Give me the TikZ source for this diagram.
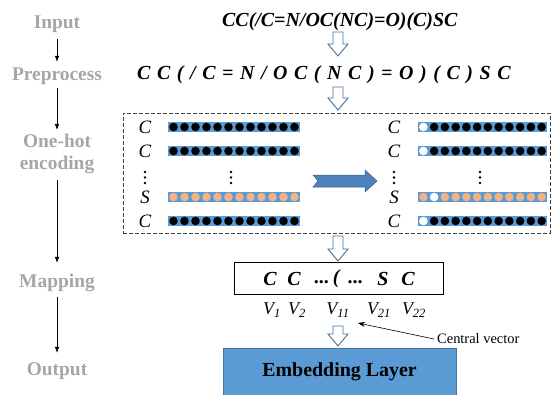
\documentclass[tikz,border=0pt]{standalone}
\usepackage{fontspec}
\setmainfont{Liberation Serif}
\usetikzlibrary{arrows.meta}

\definecolor{steplabel}{HTML}{A6A6A6}
\definecolor{barblue}{HTML}{5B9BD5}
\definecolor{edgeblue}{HTML}{41719C}
\definecolor{dotorange}{HTML}{F4B183}
\definecolor{bigarrow}{HTML}{4F81BD}
\definecolor{bigarrowedge}{HTML}{385D8A}

\tikzset{
  steptext/.style={font=\fontsize{19.5}{22}\selectfont\bfseries, text=steplabel, inner sep=0pt, text height=14bp, text depth=4bp},
  steparrow/.style={-{Latex[length=6bp,width=4.5bp]}, line width=0.6bp},
  smiles/.style={font=\fontsize{20}{24}\selectfont\bfseries\itshape, inner sep=0pt},
  token/.style={font=\fontsize{19}{22}\selectfont\itshape, inner sep=0pt},
  vlabel/.style={font=\fontsize{18}{20}\selectfont\itshape, inner sep=0pt},
  hollowline/.style={draw=edgeblue, fill=white, line width=0.9bp, line join=miter},
  encbox/.style={draw=black!75, dash pattern=on 4bp off 2bp, line width=0.7bp, inner sep=0pt},
}

% hollow down arrow: x, top y, tip y
\newcommand{\hollowdown}[3]{%
  \draw[hollowline] (#1-5,#2) -- (#1+5,#2) -- (#1+5,#3-12) -- (#1+10,#3-12) -- (#1,#3) -- (#1-10,#3-12) -- (#1-5,#3-12) -- cycle;}

% one-hot bar: left x, y, step, colour, index of the white ball
\newcommand{\hotrow}[5]{%
  \fill[barblue] (#1,#2-5) rectangle ++(12*#3,10);
  \foreach \k in {1,...,12}{%
    \ifnum\k=#5 \def\ballcol{white}\else\def\ballcol{#4}\fi
    \fill[\ballcol] (#1+\k*#3-#3/2,#2) circle (4.3bp);}}

\newcommand{\vsub}[1]{\textit{V}\textsubscript{\textit{#1}}}

\begin{document}
\begin{tikzpicture}[x=1bp,y=-1bp]
        \useasboundingbox (0,0) rectangle (553,394);

        \node[steptext] (lin) at (57,23) {Input};
        \node[steptext] (lpre) at (57,75) {Preprocess};
        \node[steptext, text height=, text depth=, align=center] (loh) at (57,154) {One-hot\\encoding};
        \node[steptext] (lmap) at (57,282) {Mapping};
        \node[steptext] (lout) at (57,370) {Output};
        \draw[steparrow, shorten <=7bp, shorten >=4bp] (lin) -- (lpre);
        \draw[steparrow, shorten <=4bp, shorten >=4bp] (lpre) -- (loh);
        \draw[steparrow, shorten <=6bp, shorten >=10bp] (loh) -- (lmap);
        \draw[steparrow, shorten <=6bp, shorten >=8bp] (lmap) -- (lout);

        \node[smiles, anchor=west] (smi) at (222,21.5) {CC(/C=N/OC(NC)=O)(C)SC};
        \node[smiles, anchor=west] (tok) at (137,74.5) {\spaceskip=0.33em\relax C C ( / C = N / O C ( N C ) = O ) ( C ) S C};
        \hollowdown{338}{32}{56}
        \hollowdown{338}{87}{110}

        \node[encbox, minimum width=427bp, minimum height=120bp] (enc) at (336.5,173) {};
        \node[token] (lc1) at (145,127) {C};
        \node[token] (lc2) at (145,151) {C};
        \node[token] (ls) at (145,197) {S};
        \node[token] (lc3) at (145,221) {C};
        \node[token] (rc1) at (394,127) {C};
        \node[token] (rc2) at (394,151) {C};
        \node[token] (rs) at (394,197) {S};
        \node[token] (rc3) at (394,221) {C};
        \hotrow{168}{127}{11}{black}{0}
        \hotrow{168}{151}{11}{black}{0}
        \hotrow{168}{197}{11}{dotorange}{0}
        \hotrow{168}{221}{11}{black}{0}
        \hotrow{418}{127}{10.75}{black}{1}
        \hotrow{418}{151}{10.75}{black}{1}
        \hotrow{418}{197}{10.75}{dotorange}{2}
        \hotrow{418}{221}{10.75}{black}{1}
        \foreach \x in {145,231,394,480}
          \foreach \y in {172,177.5,183}
            \fill (\x,\y) circle (1.4bp);
        \draw[fill=bigarrow, draw=bigarrowedge, line width=0.5bp] (313,175) -- (365,175) -- (365,170) -- (377,181) -- (365,192) -- (365,187) -- (313,187) -- (318,181) -- cycle;

        \hollowdown{338}{236}{261}
        \node[draw, line width=0.6bp, minimum width=209bp, minimum height=32bp, inner sep=0pt] (map) at (338.5,278) {};
        \node[smiles] (m1) at (270,279) {C};
        \node[smiles] (m2) at (294,279) {C};
        \node[smiles] (m3) at (339,279) {...\,(\;\,...};
        \node[smiles] (m4) at (383,279) {S};
        \node[smiles] (m5) at (408,279) {C};
        \node[vlabel] (v1) at (272,310) {\vsub{1}};
        \node[vlabel] (v2) at (297,310) {\vsub{2}};
        \node[vlabel] (v11) at (338,310) {\vsub{11}};
        \node[vlabel] (v21) at (379,310) {\vsub{21}};
        \node[vlabel] (v22) at (414,310) {\vsub{22}};
        \node[anchor=west, inner sep=3bp, font=\fontsize{14.5}{16}\selectfont] (cv) at (434,339) {Central vector};
        \coordinate (cvtip) at (358,323);
        \draw[-{Stealth[length=7bp,width=5bp]}, line width=0.6bp] (cv.west) -- (cvtip);

        \hollowdown{338}{326}{346}
        \node[fill=barblue, draw=edgeblue, line width=0.8bp, minimum width=233bp, minimum height=48bp, font=\fontsize{20}{24}\selectfont\bfseries] (emb) at (339.5,372) {Embedding Layer};
\end{tikzpicture}
\end{document}
